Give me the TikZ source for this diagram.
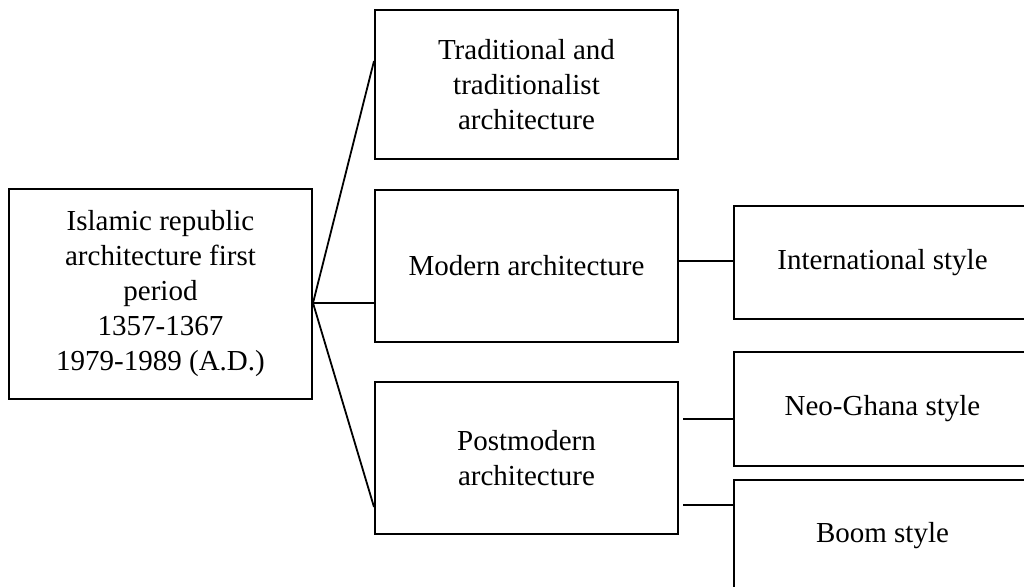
\documentclass[tikz,border=0pt]{standalone}
\usepackage{fontspec}
\setmainfont{Liberation Serif}
\begin{document}
\begin{tikzpicture}[x=1pt,y=1pt,
  box/.style={draw, line width=2pt, align=center, anchor=north west, inner sep=0pt,
    font=\fontsize{29pt}{35pt}\selectfont},
  conn/.style={line width=1.8pt}]
\useasboundingbox (0,0) rectangle (1024,-586);
\clip (0,0) rectangle (1024,-586);
\node[box, minimum width=303pt, minimum height=210pt] (L) at (8,-188)
  {Islamic republic\\architecture first\\period\\1357-1367\\1979-1989 (A.D.)};
\node[box, minimum width=303pt, minimum height=149pt] (B1) at (374,-9)
  {Traditional and\\traditionalist\\architecture};
\node[box, minimum width=303pt, minimum height=152pt] (B2) at (374,-189)
  {Modern architecture};
\node[box, minimum width=303pt, minimum height=152pt] (B3) at (374,-381)
  {Postmodern\\architecture};
\node[box, minimum width=297pt, minimum height=113pt] (R1) at (733,-205)
  {International style};
\node[box, minimum width=297pt, minimum height=114pt] (R2) at (733,-351)
  {Neo-Ghana style};
\node[box, minimum width=297pt, minimum height=112pt] (R3) at (733,-479)
  {Boom style};
\coordinate (J) at ([yshift=-115pt]L.north east);
\draw[conn] (J) -- ([yshift=-52pt]B1.north west);
\draw[conn] (J) -- ([yshift=-114pt]B2.north west);
\draw[conn] (J) -- ([yshift=-126pt]B3.north west);
\coordinate (M1) at ([yshift=-72pt]B2.north east);
\draw[conn] (M1) -- (R1.west |- M1);
\coordinate (P1) at ([xshift=4pt,yshift=-38pt]B3.north east);
\coordinate (P2) at ([xshift=4pt,yshift=-124pt]B3.north east);
\draw[conn] (P1) -- (R2.west |- P1);
\draw[conn] (P2) -- (R3.west |- P2);
\end{tikzpicture}
\end{document}
